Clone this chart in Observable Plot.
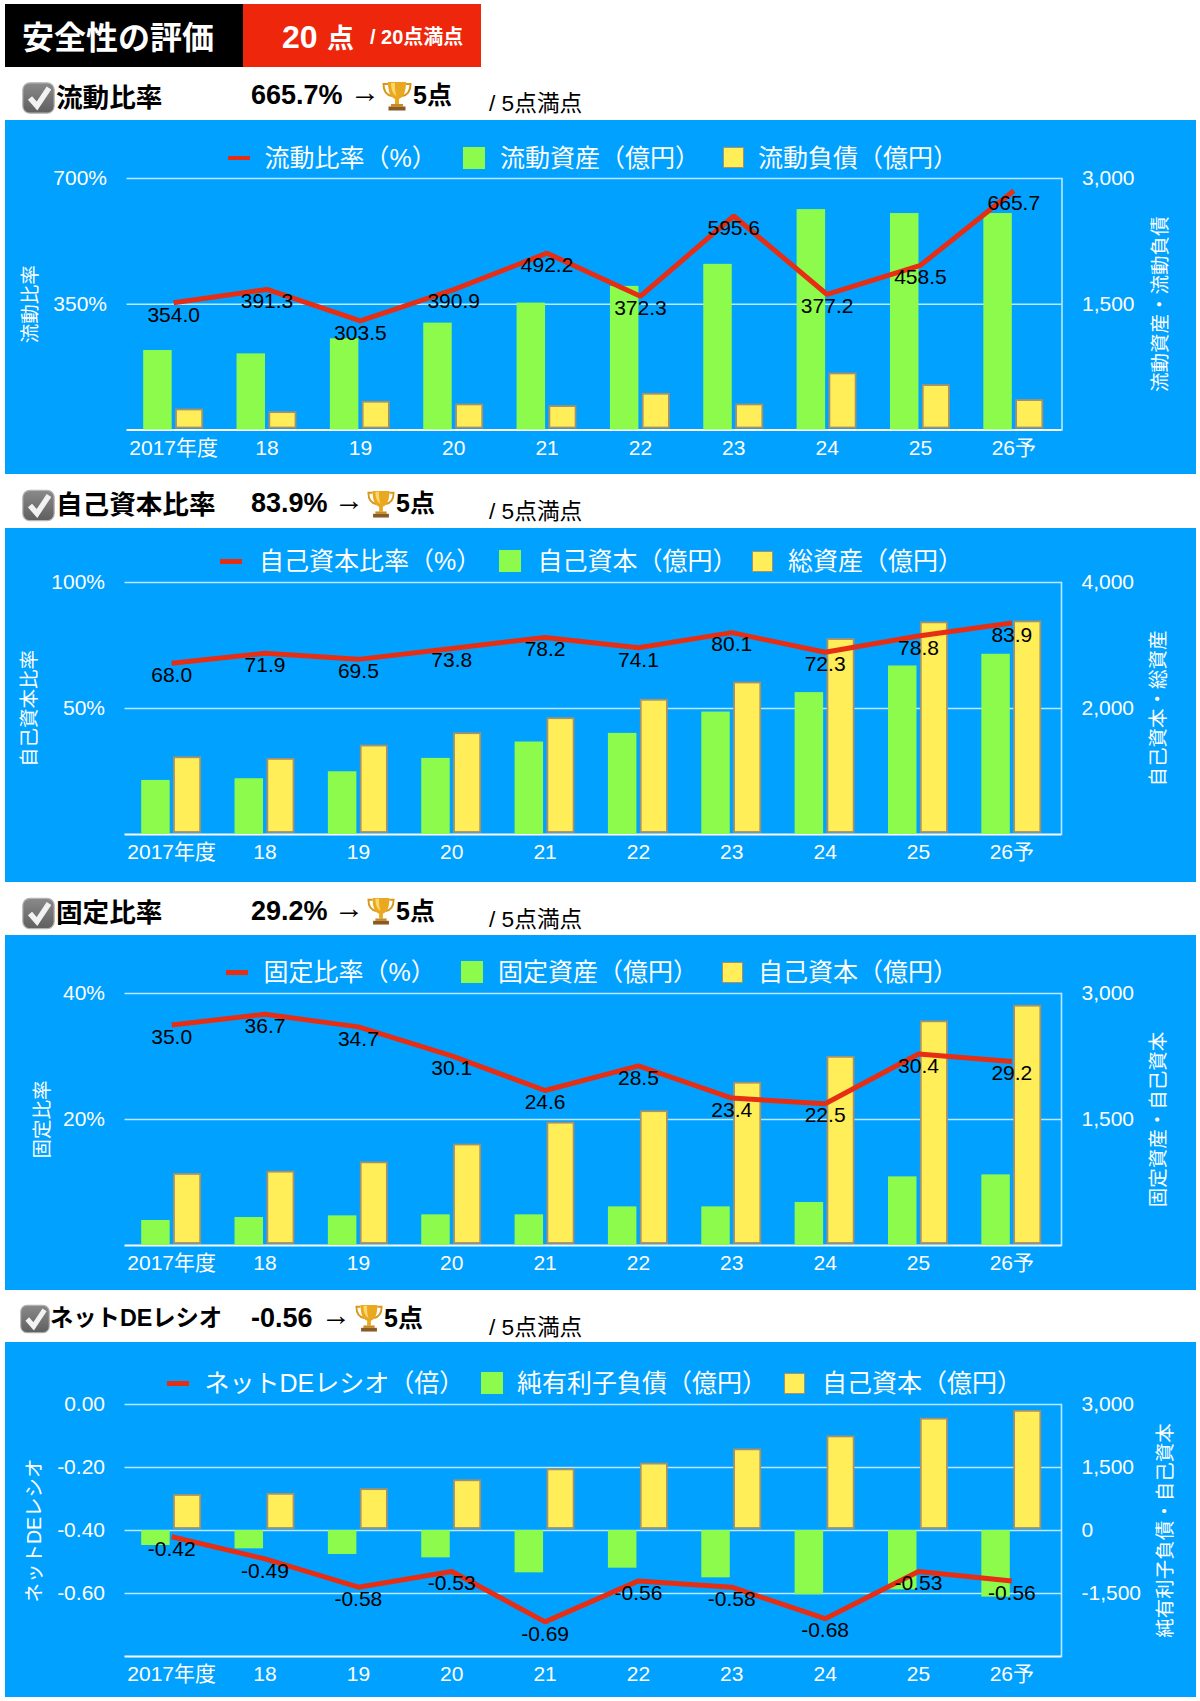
<!DOCTYPE html>
<html lang="ja">
<head>
<meta charset="utf-8">
<script src="https://cdn.jsdelivr.net/npm/d3@7"></script>
<script src="https://cdn.jsdelivr.net/npm/@observablehq/plot@0.6"></script>
<style>
  html,body{margin:0;padding:0;background:#fff;}
  body{width:1200px;height:1701px;position:relative;overflow:hidden;
    font-family:"Liberation Sans","Noto Sans CJK JP",sans-serif;color:#000;}
  .abs{position:absolute;white-space:nowrap;line-height:1;transform:translateY(-50%);}
  .panel{position:absolute;left:5px;width:1191px;background:#00A1FF;}
  .panel svg{position:absolute;left:0;display:block;}
  .swatch{position:absolute;box-sizing:border-box;}
  .lg{position:absolute;white-space:nowrap;line-height:1;color:#fff;font-size:25px;transform:translateY(-50%);}
</style>
</head>
<body>
<script>
const years = ["2017年度","18","19","20","21","22","23","24","25","26予"];

const currentRatio = [354.0,391.3,303.5,390.9,492.2,372.3,595.6,377.2,458.5,665.7];
const currentAssets = [948,908,1088,1275,1514,1713,1976,2629,2582,2582];
const currentLiabilities = [251,219,343,311,291,438,311,681,542,363];

const equityRatio = [68.0,71.9,69.5,73.8,78.2,74.1,80.1,72.3,78.8,83.9];
const equity = [858,885,996,1208,1468,1605,1944,2252,2675,2861];
const totalAssets = [1234,1208,1420,1616,1854,2146,2421,3110,3375,3391];

const fixedRatio = [35.0,36.7,34.7,30.1,24.6,28.5,23.4,22.5,30.4,29.2];
const fixedAssets = [298,333,353,365,365,460,460,512,817,841];

const netDeRatio = [-0.42,-0.49,-0.58,-0.53,-0.69,-0.56,-0.58,-0.68,-0.53,-0.56];
const netDebt = [-357,-437,-571,-651,-1008,-897,-1127,-1532,-1413,-1587];

const GREEN="#8CFB4B", YELLOW="#FFEE58", EDGE="#A3926C", RED="#E62E14", GRID="#BDE9FF";
const FONT='"Liberation Sans","Noto Sans CJK JP",sans-serif';

function el(cls, css, html, parent){
  const d=document.createElement("div");
  d.className=cls; d.style.cssText=css; if(html!=null) d.innerHTML=html;
  (parent||document.body).appendChild(d); return d;
}
const trophy=(x,y,h)=>`<svg style="position:absolute;left:${x}px;top:${y}px" width="${h}" height="${h}" viewBox="0 0 30 30">
<path d="M6 3H1.5C1.5 10 4 14 10 15M24 3h4.5C28.5 10 26 14 20 15" fill="none" stroke="#D9961A" stroke-width="2"/>
<path d="M6 1h18c0 9-2 15-7 17v5h-4v-5C8 16 6 10 6 1z" fill="#E9A81F"/>
<path d="M9 2h4c-.5 6 .5 10 1.5 13C10.5 13 9 8 9 2z" fill="#FBD66A"/>
<rect x="9" y="23" width="12" height="2.5" fill="#C98A1B"/><rect x="6.5" y="25.5" width="17" height="4" fill="#8A5A24"/></svg>`;
const check=(x,y,w,h)=>`<svg style="position:absolute;left:${x}px;top:${y}px" width="${w}" height="${h}" viewBox="0 0 33 32">
<defs><linearGradient id="cb" x1="0" y1="0" x2="0" y2="1"><stop offset="0" stop-color="#8a8a8a"/><stop offset="1" stop-color="#5f5f5f"/></linearGradient></defs>
<rect x=".8" y=".8" width="31.4" height="30.4" rx="7" fill="url(#cb)" stroke="#b5b5b5" stroke-width="1.2"/>
<path d="M8 16l7 8L27 6" fill="none" stroke="#f2f2f2" stroke-width="5.5"/></svg>`;

/* header */
el("", "position:absolute;left:5px;top:4px;width:238px;height:63px;background:#000");
el("", "position:absolute;left:243px;top:4px;width:238px;height:63px;background:#EE260B");
el("abs","left:22px;top:38px;color:#fff;font-weight:700;font-size:32px","安全性の評価");
el("abs","left:282px;top:37px;color:#fff;font-weight:700;font-size:32px","20");
el("abs","left:327px;top:39px;color:#fff;font-weight:700;font-size:27px","点");
el("abs","left:370px;top:37px;color:#fff;font-weight:700;font-size:20px","/ 20点満点");

function row(r){
  document.body.insertAdjacentHTML("beforeend", check(r.bx,r.by,r.bw,r.bh));
  el("abs",`left:${r.tx}px;top:${r.ty}px;font-weight:700;font-size:${r.ts}px`,r.title);
  el("abs",`left:251px;top:${r.vy}px;font-weight:700;font-size:27px`,r.value);
  el("abs",`left:${r.ax}px;top:${r.vy-3}px;font-size:30px`,"→");
  document.body.insertAdjacentHTML("beforeend", trophy(r.px,r.py,r.ps));
  el("abs",`left:${r.fx}px;top:${r.vy}px;font-weight:700;font-size:25px`,"5点");
  el("abs",`left:489px;top:${r.oy}px;font-size:22.7px`,"/ 5点満点");
}
row({bx:22,by:82,bw:33,bh:32,tx:56,ty:98,ts:26.6,title:"流動比率",value:"665.7%",vy:95,ax:350,px:382,py:81,ps:30,fx:413,oy:103});
row({bx:22,by:489,bw:33,bh:33,tx:56,ty:505,ts:26.6,title:"自己資本比率",value:"83.9%",vy:503,ax:334,px:367,py:490,ps:28,fx:396,oy:511});
row({bx:22,by:897,bw:33,bh:33,tx:56,ty:913,ts:26.6,title:"固定比率",value:"29.2%",vy:911,ax:334,px:367,py:897,ps:28,fx:396,oy:919});
row({bx:20,by:1304,bw:30,bh:30,tx:50,ty:1319,ts:23.3,title:"ネットDEレシオ",value:"-0.56",vy:1318,ax:321,px:355,py:1304,ps:28,fx:384,oy:1327});

function panel(c){
  const p=el("panel",`top:${c.top}px;height:${c.bottom-c.top}px`);
  const ly=c.legendY-c.top;
  const lx=v=>v-5;
  el("swatch",`left:${lx(c.lg[0])}px;width:22px;top:${ly-2}px;height:4.5px;background:${RED}`,null,p);
  el("lg",`left:${lx(c.lg[1])-1.5}px;top:${ly}px`,c.names[0],p);
  el("swatch",`left:${lx(c.lg[2])}px;width:22px;top:${ly-11}px;height:22px;background:${GREEN}`,null,p);
  el("lg",`left:${lx(c.lg[3])-2}px;top:${ly}px`,c.names[1],p);
  el("swatch",`left:${lx(c.lg[4])}px;width:21px;top:${ly-10.5}px;height:21px;background:${YELLOW};border:1.5px solid ${EDGE}`,null,p);
  el("lg",`left:${lx(c.lg[5])-2}px;top:${ly}px`,c.names[2],p);

  const svgTop=c.gridTop-16;
  const span=933.5;
  const step=span/10;
  const rightLabel=new Map(c.yTicks.map((t,i)=>[t,c.rightLabels[i]]));
  const leftLabel=new Map(c.yTicks.map((t,i)=>[t,c.leftLabels[i]]));
  const base=years.map(()=>c.barBase);
  const fs=21;
  const chart=Plot.plot({
    width:1191, height:c.bottom-svgTop,
    marginTop:c.gridTop-svgTop, marginBottom:c.bottom-c.base,
    marginLeft:c.left-5, marginRight:1196-c.right,
    style:{background:"transparent",fontFamily:FONT,overflow:"visible"},
    x:{type:"band",domain:years,padding:0,round:false,axis:null,range:[c.left-5,c.left-5+span]},
    y:{domain:c.yDomain,axis:null},
    marks:[
      Plot.ruleY(c.yTicks,{stroke:GRID,strokeWidth:1.6}),
      Plot.ruleY([c.yDomain[0]],{stroke:"#fff",strokeWidth:2}),
      Plot.frame({anchor:"right",stroke:GRID,strokeWidth:1.6}),
      Plot.axisX({tickSize:0,tickPadding:10,fontSize:fs,color:"#fff",label:null}),
      Plot.axisY({anchor:"left",ticks:c.yTicks,tickSize:0,tickPadding:20,fontSize:fs,color:"#fff",label:null,tickFormat:d=>leftLabel.get(d)}),
      Plot.axisY({anchor:"right",ticks:c.yTicks,tickSize:0,tickPadding:20,fontSize:fs,color:"#fff",label:null,tickFormat:d=>rightLabel.get(d)}),
      Plot.text([c.leftTitle],{frameAnchor:"left",textAnchor:"middle",dx:c.leftTitleX-c.left,rotate:-90,fontSize:19.5,fill:"#fff"}),
      Plot.text([c.rightTitle],{frameAnchor:"right",textAnchor:"middle",dx:c.rightTitleX-c.right,rotate:-90,fontSize:19.5,fill:"#fff"}),
      Plot.barY(years,{x:years,y1:base,y2:c.green,fill:GREEN,insetLeft:step/2-30,insetRight:step/2+1.5}),
      Plot.barY(years,{x:years,y1:base,y2:c.yellow,fill:YELLOW,stroke:EDGE,strokeWidth:1.8,insetLeft:step/2+2.8,insetRight:step/2-29,insetTop:1,insetBottom:c.yellowGap}),
      Plot.line(years,{x:years,y:c.ratio,stroke:RED,strokeWidth:5,strokeLinejoin:"miter",strokeLinecap:"butt"}),
      Plot.text(years,{x:years,y:c.ratio,text:c.ratio.map(c.fmt),dy:12,fontSize:fs,fill:"#000"})
    ]
  });
  chart.style.top=(svgTop-c.top)+"px";
  p.appendChild(chart);
}

panel({top:120,bottom:473.5,left:126.5,right:1061.5,gridTop:178,base:429.5,legendY:157.5,
  lg:[228,266,463,502,722.5,760],
  names:["流動比率（%）","流動資産（億円）","流動負債（億円）"],
  yDomain:[0,700],yTicks:[350,700],leftLabels:["350%","700%"],rightLabels:["1,500","3,000"],
  leftTitle:"流動比率",rightTitle:"流動資産・流動負債",leftTitleX:30,rightTitleX:1160,
  ratio:currentRatio,fmt:d=>d.toFixed(1),
  green:currentAssets.map(v=>v*700/3000),yellow:currentLiabilities.map(v=>v*700/3000),barBase:0,yellowGap:2});

panel({top:528,bottom:882,left:124.5,right:1061,gridTop:581.5,base:833.5,legendY:561,
  lg:[220,260.5,499,539.5,752,790],
  names:["自己資本比率（%）","自己資本（億円）","総資産（億円）"],
  yDomain:[0,100],yTicks:[50,100],leftLabels:["50%","100%"],rightLabels:["2,000","4,000"],
  leftTitle:"自己資本比率",rightTitle:"自己資本・総資産",leftTitleX:29,rightTitleX:1158,
  ratio:equityRatio,fmt:d=>d.toFixed(1),
  green:equity.map(v=>v*100/4000),yellow:totalAssets.map(v=>v*100/4000),barBase:0,yellowGap:2});

panel({top:935,bottom:1289.5,left:124.5,right:1061,gridTop:993,base:1245,legendY:972,
  lg:[226,265,461,500,721.5,760],
  names:["固定比率（%）","固定資産（億円）","自己資本（億円）"],
  yDomain:[0,40],yTicks:[20,40],leftLabels:["20%","40%"],rightLabels:["1,500","3,000"],
  leftTitle:"固定比率",rightTitle:"固定資産・自己資本",leftTitleX:42,rightTitleX:1158,
  ratio:fixedRatio,fmt:d=>d.toFixed(1),
  green:fixedAssets.map(v=>v*40/3000),yellow:equity.map(v=>v*40/3000),barBase:0,yellowGap:2});

panel({top:1342,bottom:1697,left:124.5,right:1061,gridTop:1404,base:1656,legendY:1383,
  lg:[167,206,481,519,784,824],
  names:["ネットDEレシオ（倍）","純有利子負債（億円）","自己資本（億円）"],
  yDomain:[-0.8,0],yTicks:[-0.6,-0.4,-0.2,0],leftLabels:["-0.60","-0.40","-0.20","0.00"],rightLabels:["-1,500","0","1,500","3,000"],
  leftTitle:"ネットDEレシオ",rightTitle:"純有利子負債・自己資本",leftTitleX:34,rightTitleX:1165,
  ratio:netDeRatio,fmt:d=>d.toFixed(2),
  green:netDebt.map(v=>v/7500-0.4),yellow:equity.map(v=>v/7500-0.4),barBase:-0.4,yellowGap:2});
</script>
</body>
</html>
